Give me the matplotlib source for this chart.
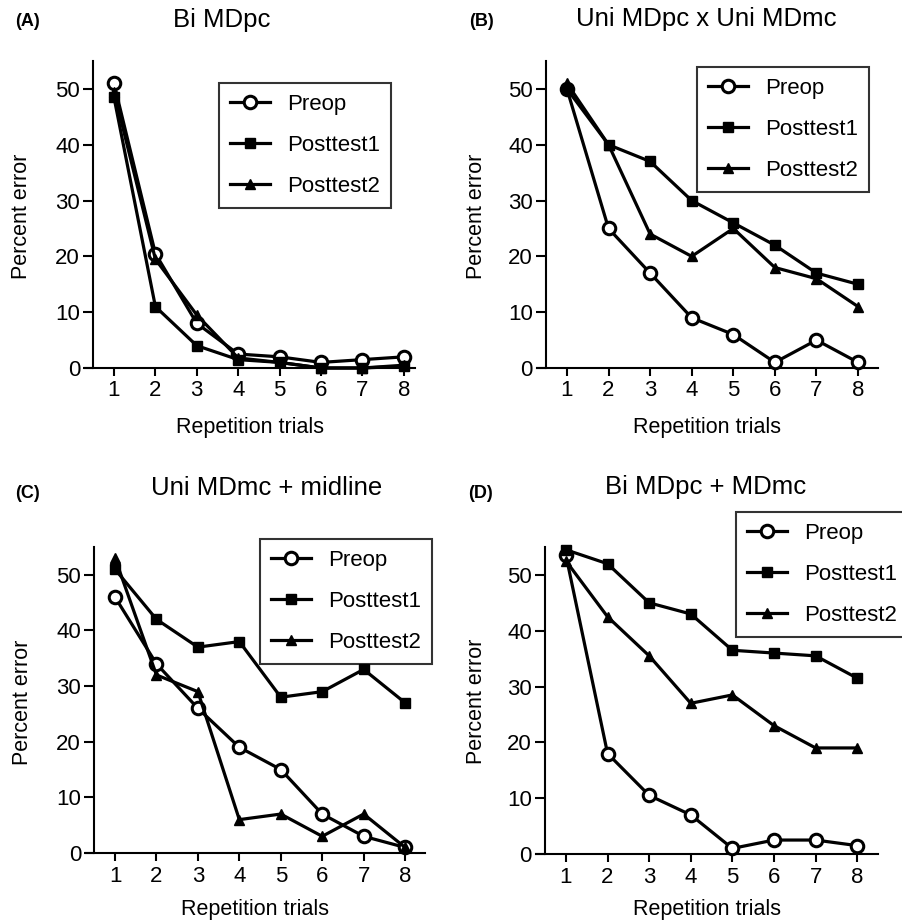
import matplotlib
matplotlib.use("Agg")
import matplotlib.pyplot as plt
import numpy as np

plt.rcParams['font.family'] = ['Liberation Sans', 'DejaVu Sans']

trials = [1, 2, 3, 4, 5, 6, 7, 8]
series_names = ["Preop", "Posttest1", "Posttest2"]

# (A) Bi MDpc
a_preop = [51, 20.5, 8, 2.5, 2, 1, 1.5, 2]
a_post1 = [48.5, 11, 4, 1.5, 1, 0, 0, 0.3]
a_post2 = [49.5, 19.5, 9.5, 1.8, 1, 0, 0, 0.5]

# (B) Uni MDpc x Uni MDmc
b_preop = [50, 25, 17, 9, 6, 1, 5, 1]
b_post1 = [50, 40, 37, 30, 26, 22, 17, 15]
b_post2 = [51, 40, 24, 20, 25, 18, 16, 11]

# (C) Uni MDmc + midline
c_preop = [46, 34, 26, 19, 15, 7, 3, 1]
c_post1 = [51, 42, 37, 38, 28, 29, 33, 27]
c_post2 = [53, 32, 29, 6, 7, 3, 7, 1]

# (D) Bi MDpc + MDmc
d_preop = [53.5, 18, 10.5, 7, 1, 2.5, 2.5, 1.5]
d_post1 = [54.5, 52, 45, 43, 36.5, 36, 35.5, 31.5]
d_post2 = [52.5, 42.5, 35.5, 27, 28.5, 23, 19, 19]

W, H = 903, 921
fig = plt.figure(figsize=(W / 100, H / 100), dpi=100)

def px(x0, y0, x1, y1):
    # pixel box (left, top, right, bottom) -> figure fraction rect
    return [x0 / W, 1 - y1 / H, (x1 - x0) / W, (y1 - y0) / H]

panels = [
    ("(A)", "Bi MDpc", px(85, 61, 415, 368), (0.3, 8.27), a_preop, a_post1, a_post2,
     (15, 26), (222, 27), (22, 216), (250, 417), (219, 83)),
    ("(B)", "Uni MDpc x Uni MDmc", px(537, 61, 878, 368), (0.28, 8.48), b_preop, b_post1, b_post2,
     (469, 26), (706, 26), (477, 216), (707, 417), (697, 67)),
    ("(C)", "Uni MDmc + midline", px(86, 547, 425, 853), (0.3, 8.48), c_preop, c_post1, c_post2,
     (15, 498), (267, 495), (23, 702), (255, 899), (260, 539)),
    ("(D)", "Bi MDpc + MDmc", px(536, 547, 878, 854), (0.28, 8.5), d_preop, d_post1, d_post2,
     (468, 498), (706, 494), (477, 701), (707, 899), (736, 512)),
]

for tag, title, rect, xl, pre, p1, p2, tagpos, titlepos, ylpos, xlpos, legpos in panels:
    ax = fig.add_axes(rect)
    ax.plot(trials, pre, '-o', color='black', lw=2.3, ms=9, mfc='white', mew=2.2,
            label=series_names[0], clip_on=False, zorder=3)
    ax.plot(trials, p1, '-s', color='black', lw=2.3, ms=6.5,
            label=series_names[1], clip_on=False, zorder=3)
    ax.plot(trials, p2, '-^', color='black', lw=2.3, ms=6.5,
            label=series_names[2], clip_on=False, zorder=3)
    ax.set_xlim(*xl)
    ax.set_ylim(0, 55)
    ax.set_xticks(trials)
    ax.set_yticks([0, 10, 20, 30, 40, 50])
    ax.spines['top'].set_visible(False)
    ax.spines['right'].set_visible(False)
    ax.spines['left'].set_position(('data', 0.5))
    ax.spines['left'].set_linewidth(1.5)
    ax.spines['bottom'].set_linewidth(1.5)
    ax.tick_params(axis='both', labelsize=16, width=1.5, color='black')
    ax.tick_params(axis='y', length=7.5, pad=2)
    ax.tick_params(axis='x', length=6, pad=3)
    fig.text(tagpos[0] / W, 1 - tagpos[1] / H, tag, fontsize=13, fontweight='bold',
             ha='left', va='baseline')
    fig.text(titlepos[0] / W, 1 - titlepos[1] / H, title, fontsize=18.5, ha='center',
             va='baseline')
    fig.text(ylpos[0] / W, 1 - ylpos[1] / H, "Percent error", fontsize=15.5, rotation=90,
             ha='center', va='center')
    fig.text(xlpos[0] / W, 1 - xlpos[1] / H, "Repetition trials", fontsize=15.5,
             ha='center', va='top')
    leg = ax.legend(loc='upper left', bbox_to_anchor=(legpos[0] / W, 1 - legpos[1] / H),
                    bbox_transform=fig.transFigure, borderaxespad=0, fontsize=16,
                    frameon=True, fancybox=False, edgecolor='black', handlelength=1.8,
                    labelspacing=0.9, handletextpad=0.75, borderpad=0.5)
    leg.get_frame().set_linewidth(1.5)

fig.savefig("out.png", dpi=100)
